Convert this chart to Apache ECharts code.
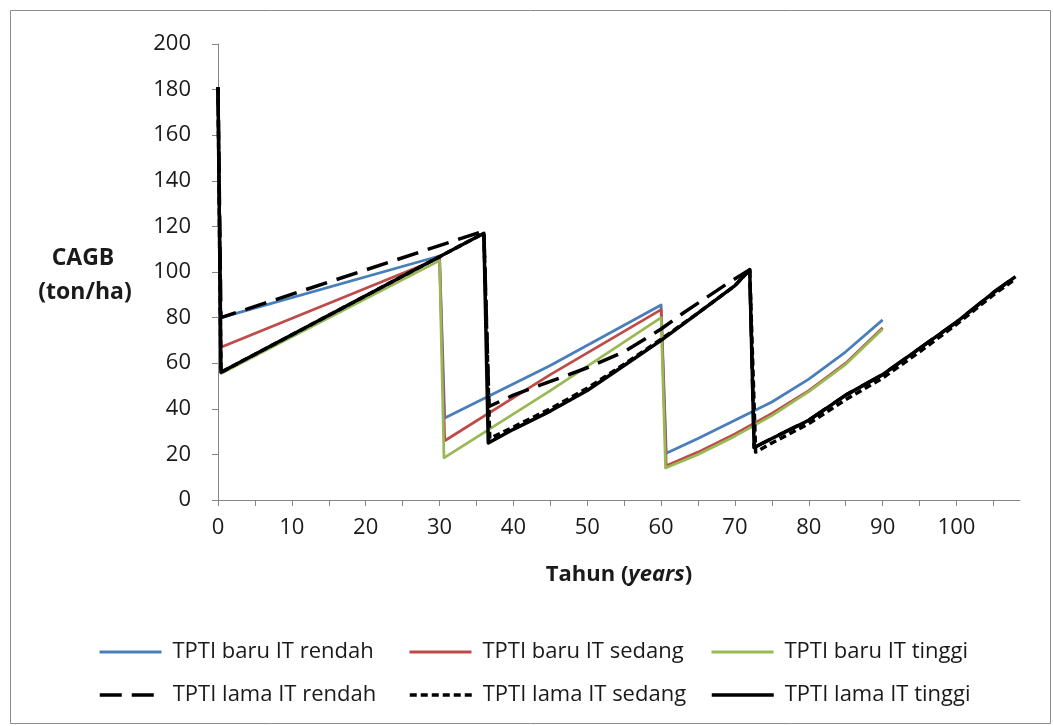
<!DOCTYPE html>
<html><head><meta charset="utf-8">
<script src="https://cdn.jsdelivr.net/npm/echarts@6/dist/echarts.min.js"></script>
<style>html,body{margin:0;padding:0;background:#fff}#c{width:1053px;height:726px}</style>
</head><body><div id="c"></div>
<script>
// ---- data: [year, CAGB ton/ha] ----
const baruRendah = [[0,181],[0.4,80],[30,107],[30.7,36],[45,59],[60,85.5],[60.7,20.5],[65,27],[70,35],[75,43],[80,53],[85,65],[90,79]];
const baruSedang = [[0,181],[0.4,67],[30,106],[30.7,26],[45,55],[60,83.5],[60.7,15],[65,21],[70,29],[75,38],[80,48],[85,60],[90,75.5]];
const baruTinggi = [[0,181],[0.4,55.5],[30,105],[30.6,18.5],[45,48],[60,80],[60.6,14],[65,20],[70,28],[75,37],[80,47.5],[85,59.5],[90,75]];
const lamaRendah = [[0,181],[0.4,80],[36,118],[36.7,41],[40,46],[45,52],[50,58],[55,65],[60,75],[63,82],[66,88.5],[69,95],[72,101],[72.6,23],[75,27],[80,35],[85,46],[90,55],[95,66.5],[100,78],[105,91],[108,98]];
const lamaSedang = [[0,181],[0.4,56],[36,117],[36.8,27],[40,32],[45,40],[50,49],[55,59.5],[60,70.5],[65,82],[70,94],[72,101],[72.8,21],[75,25],[80,33.5],[85,44],[90,53.5],[95,65],[100,77],[105,90],[108,97]];
const lamaTinggi = [[0,181],[0.4,56],[36,117],[36.6,25],[40,31],[45,39],[50,48],[55,59],[60,70],[65,82],[70,94],[72,101],[72.6,23],[75,27],[80,35],[85,46],[90,55],[95,66.5],[100,78],[105,91],[108,98]];
const seriesNames = ['TPTI baru IT rendah','TPTI baru IT sedang','TPTI baru IT tinggi','TPTI lama IT rendah','TPTI lama IT sedang','TPTI lama IT tinggi'];
const xTickValues = [0,5,10,15,20,25,30,35,40,45,50,55,60,65,70,75,80,85,90,95,100,105];
const xLabelValues = [0,10,20,30,40,50,60,70,80,90,100];

const FONT = 'Open Sans';
const FS = 22;
const chart = echarts.init(document.getElementById('c'));
const axisCol = '#868686';
const txt = '#1a1a1a';
function mk(name, data, color, width, type){
  return {name, type:'line', data, symbol:'none', animation:false,
    lineStyle:{color, width, type, cap:'butt', join:'round'}, itemStyle:{color}};
}
const legendLefts = [98, 408, 710];
const legendTops = [641, 684];
const legends = seriesNames.map((n, i) => ({
  data:[n], left:legendLefts[i % 3], top:legendTops[Math.floor(i / 3)], padding:0,
  itemWidth:62, itemHeight:14, itemStyle:{opacity:0},
  lineStyle:{width: i < 3 ? 3 : 3.5},
  textStyle:{fontSize:FS, color:txt, fontFamily:FONT, padding:[0,0,0,6]}
}));
chart.setOption({
  animation:false,
  textStyle:{fontFamily:FONT},
  grid:{left:218, right:33, top:44, bottom:226, containLabel:false},
  xAxis:{type:'value', min:0, max:108.6,
    axisLine:{lineStyle:{color:axisCol, width:1}},
    axisTick:{show:true, length:6, lineStyle:{color:axisCol}, customValues:xTickValues},
    axisLabel:{color:txt, fontSize:FS, fontFamily:FONT, margin:17, customValues:xLabelValues},
    splitLine:{show:false},
    name:'{b|Tahun (}{i|years}{b|)}', nameLocation:'middle', nameGap:64,
    nameTextStyle:{rich:{b:{fontSize:FS, fontWeight:'bold', color:txt, fontFamily:FONT}, i:{fontSize:FS, fontWeight:'bold', fontStyle:'italic', color:txt, fontFamily:FONT}}}
  },
  yAxis:{type:'value', min:0, max:200, interval:20,
    axisLine:{show:true, lineStyle:{color:axisCol, width:1}},
    axisTick:{show:true, length:6, lineStyle:{color:axisCol}},
    axisLabel:{color:txt, fontSize:FS, fontFamily:FONT, margin:27},
    splitLine:{show:false}
  },
  legend:legends,
  graphic:[
    {type:'rect', shape:{x:10.5, y:10.5, width:1040, height:713}, style:{fill:'none', stroke:'#8c8c8c', lineWidth:1}, silent:true},
    {type:'text', x:83, y:258, style:{text:'CAGB', font:'bold 23px "Open Sans"', fill:txt, textAlign:'center', textVerticalAlign:'middle'}},
    {type:'text', x:85, y:292, style:{text:'(ton/ha)', font:'bold 23px "Open Sans"', fill:txt, textAlign:'center', textVerticalAlign:'middle'}}
  ],
  series:[
    mk(seriesNames[0], baruRendah, '#4A7EBB', 2.75, 'solid'),
    mk(seriesNames[1], baruSedang, '#BE4B48', 2.75, 'solid'),
    mk(seriesNames[2], baruTinggi, '#98B954', 2.75, 'solid'),
    mk(seriesNames[3], lamaRendah, '#000000', 3.5, [22,10]),
    mk(seriesNames[4], lamaSedang, '#000000', 3.5, [7,4]),
    mk(seriesNames[5], lamaTinggi, '#000000', 3.5, 'solid')
  ]
});
</script></body></html>
